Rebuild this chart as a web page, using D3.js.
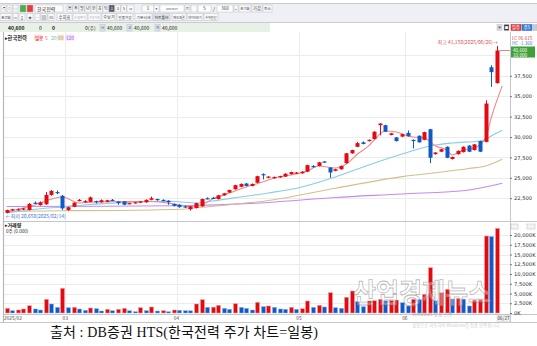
<!DOCTYPE html>
<html>
<head>
<meta charset="utf-8">
<script src="https://cdn.jsdelivr.net/npm/d3@7"></script>
<style>
  body { margin: 0; background: #ffffff; }
  svg { display: block; font-family: "Noto Sans CJK KR", "DejaVu Sans", sans-serif; }
</style>
</head>
<body>
<svg id="chart" width="537" height="346"></svg>
<script>
// daily candles, 2025/02/14 .. 2025/06/26
var candleOpen  = [20700,21000,21050,21100,21050,21950,21650,21750,22900,23250,22800,
                   21050,21450,22150,22000,22050,22150,22000,22050,22300,22100,22100,21800,21900,21950,22000,22300,22400,22300,22200,21800,
                   21700,21500,21150,21300,21500,22500,22550,22400,22850,23200,23600,23900,24300,24000,24400,25450,25000,24950,25050,25150,25450,25500,
                   25550,25750,26450,26450,27000,26250,25850,26050,26800,28000,28800,29350,29500,29750,31450,31450,30250,29950,30050,
                   30500,29650,30150,29650,30950,27900,28200,28800,27300,27900,28150,28950,28400,29500,29400,38550,36600];
var candleHigh  = [21100,21200,21250,21300,21900,22100,22100,23250,23500,23450,22900,
                   21450,22000,22400,22250,22700,22200,22350,22300,22400,22150,22150,21950,22050,22150,22350,22700,22450,22350,22250,21850,
                   21750,21600,21550,21950,22450,22600,22650,22900,23150,23550,24150,24300,24350,24300,25250,25550,25200,25150,25250,25550,25750,25700,
                   25800,26600,26550,26950,27050,26300,26100,26500,28050,28450,29400,29450,29700,30700,31700,31500,30500,30000,30400,
                   30800,29700,30200,30650,31000,28150,28550,28850,27600,28350,28850,29000,29150,29550,34500,38800,41150];
var candleLow   = [20650,20950,21000,21050,21000,21800,21600,21700,22800,23000,21050,
                   20950,21400,22100,21950,22000,21850,21950,22000,22150,21700,21650,21750,21850,21900,21950,22250,22200,22100,21700,21500,
                   21350,21300,21000,21250,21450,22350,22400,22350,22800,23150,23550,23850,23950,23950,24350,24800,24950,24900,25000,25100,25400,25450,
                   25500,25700,26250,26400,26850,25000,25800,26000,26750,27950,28750,29100,29450,29700,30200,30600,30200,29450,30000,
                   30050,28600,29300,29600,26800,27850,28150,27400,27250,27850,28100,28150,28350,28150,29350,36150,36550];
var candleClose = [21050,21150,21150,21250,21800,21900,22000,22900,23400,23200,21250,
                   21400,21950,22300,22150,22600,22050,22250,22250,22250,21900,21700,21900,22000,22100,22300,22500,22250,22150,22000,21550,
                   21400,21400,21500,21900,22400,22400,22450,22850,23100,23500,24100,24250,24000,24250,25200,25350,25150,25100,25200,25500,25700,25650,
                   25750,26550,26300,26900,26900,25650,26050,26450,28000,28400,29250,29150,29650,30650,31650,30650,30450,29500,30350,
                   30100,29600,29350,30600,27450,28100,28500,27450,27550,28300,28800,28200,29100,28200,34100,37950,40600];

// trading volume in thousand shares
var volumeK = [1200,600,770,1030,1870,1030,770,3510,2310,1460,6330,
               1360,1460,1030,690,1280,1100,510,950,590,950,1200,590,330,1360,590,1540,510,590,330,770,
               690,590,560,2310,3410,1460,1500,1970,1200,950,2380,1460,1200,770,2740,1620,1800,1460,1030,950,1460,950,
               1100,3080,1460,1970,1540,5200,1360,1200,4030,5640,2900,1620,3080,3150,3510,3080,3150,3330,2640,
               1800,3510,3450,4790,11620,3150,5200,6080,3590,3700,3550,1800,3330,3400,19740,19600,21700];

// moving averages as drawn (candle index, price)
var ma5Idx  = [0,5,10,13,17,22,26,30,33,35,37,40,43,46,48,51,54,56,59,61,63,65,66,68,70,72,73,75,77,79,80,82,84,86,87,89];
var ma5Val  = [20810,21670,22650,21920,22070,22100,22100,21790,21430,21670,22400,23140,23880,24490,24980,25350,25840,26450,26200,26690,
               27920,28900,29630,30740,30610,30120,30000,29880,28900,28410,27800,28410,28650,29880,32330,36300];
var ma20Idx = [0,4,10,15,20,26,30,34,37,42,47,53,59,65,71,76,80,85,88,89];
var ma20Val = [20690,21060,21430,21730,21920,22100,22100,21920,22160,22650,23140,23880,25100,26570,27920,28900,29270,29510,30490,30800];
var ma60Idx = [0,10,20,31,35,47,59,71,83,86,89];
var ma60Val = [20870,20970,21000,21140,21390,22220,23720,25140,26130,26450,27270];
var ma120Idx = [0,17,31,47,59,71,83,89];
var ma120Val = [21490,21510,21580,21980,22590,23020,23510,24330];

var priceTicks  = [22500, 25000, 27500, 30000, 32500, 35000, 37500];
var priceGrid   = [22500, 25000, 27500, 30000, 32500, 35000, 37500, 40000];
var volumeTicks = [0, 2500, 5000, 7500, 10000, 12500, 15000, 17500, 20000];
var monthStart  = [10.5, 30.5, 52.5, 71.5];
var monthLabels = ['03', '04', '05', '06'];

var RED = '#e30b12', BLUE = '#1158c8';
var plotL = 4, plotR = 510;

var svg = d3.select('#chart');

var x  = d3.scaleLinear().domain([0, 88]).range([6.7, 496.7]);
var yP = d3.scaleLinear().domain([20000, 40000]).range([218.6, 55.4]);
var yV = d3.scaleLinear().domain([0, 20000]).range([313, 235]);

function txt(g, px, py, s, size, col, anchor, weight) {
    return g.append('text').attr('x', px).attr('y', py).text(s)
            .attr('font-size', size).attr('fill', col || '#333')
            .attr('text-anchor', anchor || 'start')
            .attr('font-weight', weight || 'normal');
}

function btn(g, bx, by, w, h, label, fill, col, stroke) {
    g.append('rect').attr('x', bx).attr('y', by).attr('width', w).attr('height', h)
     .attr('fill', fill || '#fafafa').attr('stroke', stroke || '#b9bcc4').attr('stroke-width', 0.5);
    if (label) {
        var fs = Math.min(4.4, (w - 1.5) / label.length);
        txt(g, bx + w / 2, by + h - 2, label, fs, col || '#333', 'middle');
    }
}

//
// toolbar
//
var tb = svg.append('g');
tb.append('rect').attr('x', 0).attr('y', 0).attr('width', 537).attr('height', 32).attr('fill', '#eef0f5');
tb.append('rect').attr('x', 0).attr('y', 0).attr('width', 537).attr('height', 3).attr('fill', '#ffffff');
tb.append('line').attr('x1', 0).attr('x2', 537).attr('y1', 3.5).attr('y2', 3.5).attr('stroke', '#c9ccd3');
tb.append('line').attr('x1', 0).attr('x2', 537).attr('y1', 22.5).attr('y2', 22.5).attr('stroke', '#c9ccd3');
tb.append('rect').attr('x', 0).attr('y', 23).attr('width', 537).attr('height', 9).attr('fill', '#ffffff');
tb.append('rect').attr('x', 0).attr('y', 23).attr('width', 270).attr('height', 9).attr('fill', '#e9f1e6');

btn(tb, 1, 5, 5, 7, '◁');
btn(tb, 7, 5, 5, 7, '◇');
btn(tb, 13, 5, 5, 7, '◎');
btn(tb, 20, 5, 6, 7, '', '#46b04a', '#2f8a33');
btn(tb, 27, 5, 6, 7, '', '#e53b3b', '#b02020');
btn(tb, 35, 5, 28, 7, '', '#ffffff');
txt(tb, 37, 10.8, '한국전력', 5, '#222');

var periodBtns = ['▣', '주', '월', '년', '분', '초', '틱', '1', '3', '5', '10'];
periodBtns.forEach(function (s, i) {
    var on = (i == 7);
    btn(tb, 67 + i * 6, 5, i == 10 ? 7 : 5.5, 7, s, on ? '#5a5d66' : '#fafafa', on ? '#fff' : '#333');
});
btn(tb, 142, 5, 12, 7, '1');
btn(tb, 154, 5, 5, 7, '▾');
btn(tb, 160, 5, 24, 7, '2025/06/27', '#ffffff');
btn(tb, 185, 5, 5, 7, '▦');
btn(tb, 191, 5, 6, 7, '');
btn(tb, 198, 5, 13, 7, '5', '#ffffff');
txt(tb, 213, 10.8, '/', 5, '#333');
btn(tb, 217, 5, 16, 7, '360', '#ffffff');
btn(tb, 234, 5, 4, 7, '▴');
btn(tb, 239, 5, 12, 7, '초기화');
btn(tb, 252, 5, 10, 7, '가감');
btn(tb, 263, 5, 9, 7, '최소');

var row2 = [[0, 12, '조건화'], [13, 5, '▭'], [19, 6, '↕'], [27, 6, '◈'], [35, 5, '─'], [41, 6, '▤'], [48, 6, '⊡'],
            [57, 15, '수치표'], [73, 14, '수정주가'], [88, 13, '수정거래'], [102, 14, '수보기'], [117, 16, '일중가감'],
            [135, 17, '기본시세'], [153, 17, '차트툴바'], [172, 14, '매도체결'], [187, 16, '데이터보기'], [204, 14, '수익인산']];
row2.forEach(function (b, i) {
    var grey = (i == 8 || i == 9);
    btn(tb, b[0], 13.5, b[1], 7, b[2], i == 13 ? '#dfe3ea' : '#fafafa', grey ? '#aaa' : '#333');
});

txt(tb, 8, 30, '40,600', 5, '#111', 'start', 'bold');
txt(tb, 39, 30, '0', 5, '#111');
txt(tb, 52, 30, '0', 5, '#111', 'start', 'bold');
txt(tb, 85, 30, '0(주)', 5, '#333');
[[100, '시'], [127, '고'], [155, '저']].forEach(function (d) {
    btn(tb, d[0], 24.5, 5, 6.5, d[1], '#d9e4f3');
    txt(tb, d[0] + 7, 30, '40,600', 5, '#222');
});
btn(tb, 497, 24.5, 5, 6, '▣', '#dddddd');
btn(tb, 504, 24.5, 5, 6, '■', '#333333', '#fff');
btn(tb, 511, 24.5, 10, 6, '일주', '#e64444', '#fff', '#c02020');
btn(tb, 522, 24.5, 10, 6, '주5', '#3b7fdc', '#fff', '#2060c0');
btn(tb, 533, 24.5, 4, 6, '', '#cccccc');

//
// chart frame + grids
//
var frame = svg.append('g');
frame.append('rect').attr('x', 0).attr('y', 32).attr('width', 537).attr('height', 290).attr('fill', '#ffffff');
frame.append('line').attr('x1', 3.5).attr('x2', 3.5).attr('y1', 32).attr('y2', 322).attr('stroke', '#b5b8bf').attr('stroke-width', 1.2);
frame.append('line').attr('x1', plotR + 0.5).attr('x2', plotR + 0.5).attr('y1', 32).attr('y2', 322).attr('stroke', '#c4c6cc');
frame.append('line').attr('x1', plotL).attr('x2', 537).attr('y1', 221.5).attr('y2', 221.5).attr('stroke', '#c4c6cc').attr('stroke-width', 1.2);
frame.append('line').attr('x1', plotL).attr('x2', 537).attr('y1', 314.5).attr('y2', 314.5).attr('stroke', '#c4c6cc');
frame.append('line').attr('x1', 0).attr('x2', 537).attr('y1', 322.5).attr('y2', 322.5).attr('stroke', '#c4c6cc');

var grid = svg.append('g').attr('stroke', '#ececec').attr('stroke-width', 1);
priceGrid.forEach(function (p) {
    grid.append('line').attr('x1', plotL).attr('x2', plotR)
        .attr('y1', Math.round(yP(p)) + 0.5).attr('y2', Math.round(yP(p)) + 0.5);
});
volumeTicks.forEach(function (v) {
    if (v == 0) return;
    grid.append('line').attr('x1', plotL).attr('x2', plotR)
        .attr('y1', Math.round(yV(v)) + 0.5).attr('y2', Math.round(yV(v)) + 0.5);
});
monthStart.forEach(function (m) {
    var gx = Math.round(x(m)) + 0.5;
    grid.append('line').attr('x1', gx).attr('x2', gx).attr('y1', 32).attr('y2', 221);
    grid.append('line').attr('x1', gx).attr('x2', gx).attr('y1', 222).attr('y2', 314);
});

//
// moving averages
//
var plot = svg.append('g');
function maLine(idx, val, col) {
    var pts = idx.map(function (d, i) { return [x(d), yP(val[i])]; });
    plot.append('path').attr('d', d3.line().curve(d3.curveMonotoneX)(pts))
        .attr('fill', 'none').attr('stroke', col).attr('stroke-width', 1.1);
}
maLine(ma120Idx, ma120Val, '#c58af0');
maLine(ma60Idx, ma60Val, '#d6bd8e');
maLine(ma20Idx, ma20Val, '#86cde6');
maLine(ma5Idx, ma5Val, '#f0888a');

//
// candles
//
var idx = d3.range(candleOpen.length);
plot.selectAll('line.wick').data(idx).enter().append('line')
    .attr('x1', function (i) { return Math.round(x(i)) + 0.5; })
    .attr('x2', function (i) { return Math.round(x(i)) + 0.5; })
    .attr('y1', function (i) { return yP(candleHigh[i]); })
    .attr('y2', function (i) { return yP(candleLow[i]); })
    .attr('stroke', function (i) { return candleClose[i] >= candleOpen[i] ? RED : BLUE; })
    .attr('stroke-width', 1);
plot.selectAll('rect.body').data(idx).enter().append('rect')
    .attr('x', function (i) { return Math.round(x(i)) - 1.5; })
    .attr('width', 4)
    .attr('y', function (i) { return yP(Math.max(candleOpen[i], candleClose[i])); })
    .attr('height', function (i) { return Math.max(1.2, Math.abs(yP(candleOpen[i]) - yP(candleClose[i]))); })
    .attr('fill', function (i) { return candleClose[i] >= candleOpen[i] ? RED : BLUE; });

// current price line and high / low markers
var last = candleClose.length - 1;
plot.append('line').attr('x1', x(last) + 3).attr('x2', plotR)
    .attr('y1', yP(candleClose[last])).attr('y2', yP(candleClose[last]))
    .attr('stroke', '#f06060').attr('stroke-width', 0.8);
txt(plot, x(last) + 1, yP(41150) - 2.5, '최고 41,150(2025/06/26)→', 5, '#e04848', 'end');
txt(plot, x(0) - 1, yP(20650) + 4.5, '←최저 20,650(2025/02/14)', 5, '#3c6fd6', 'start');

//
// volume
//
var vcol = function (i) { return (i == 0 || volumeK[i] >= volumeK[i - 1]) ? RED : BLUE; };
plot.selectAll('rect.vol').data(idx).enter().append('rect')
    .attr('x', function (i) { return Math.round(x(i)) - 1.5; })
    .attr('width', 4)
    .attr('y', function (i) { return yV(volumeK[i]); })
    .attr('height', function (i) { return yV(0) - yV(volumeK[i]); })
    .attr('fill', vcol)
    .attr('stroke', function (i) { return vcol(i) == RED ? '#f3a0a3' : '#8fb3e6'; })
    .attr('stroke-width', 0.5);

//
// axes
//
var axP = svg.append('g').attr('transform', 'translate(' + plotR + ',0)')
    .call(d3.axisRight(yP).tickValues(priceTicks).tickSize(2).tickPadding(2).tickFormat(d3.format(',')));
var axV = svg.append('g').attr('transform', 'translate(' + plotR + ',0)')
    .call(d3.axisRight(yV).tickValues(volumeTicks).tickSize(2).tickPadding(2)
          .tickFormat(function (d) { return d3.format(',')(d) + 'K'; }));
[axP, axV].forEach(function (a) {
    a.select('.domain').remove();
    a.selectAll('line').attr('stroke', '#777');
    a.selectAll('text').attr('font-size', 5.2).attr('fill', '#333')
     .style('font-family', '"DejaVu Sans", sans-serif');
});

var axX = svg.append('g');
txt(axX, 4, 320, '2025/02', 4.8, '#444');
monthStart.forEach(function (m, i) {
    txt(axX, x(m), 320, monthLabels[i], 4.8, '#444', 'middle');
});
btn(axX, 497, 315.5, 13, 6, '', '#f2f2f2', '#333', '#d0d0d0');
txt(axX, 503.5, 320.3, '06/27', 4.6, '#333', 'middle');

//
// legends and top right price box
//
var lg = svg.append('g');
txt(lg, 5, 39.5, '▸한국전력', 5.2, '#111', 'start', 'bold');
lg.append('rect').attr('x', 34).attr('y', 34.5).attr('width', 8).attr('height', 6).attr('fill', '#fde0e0');
txt(lg, 35, 39.5, '일봉', 4.6, RED);
txt(lg, 45, 39.5, '5', 5, '#f07070');
txt(lg, 51, 39.5, '20', 5, '#5bb8dc');
lg.append('rect').attr('x', 57).attr('y', 34.5).attr('width', 7).attr('height', 6).attr('fill', '#f3ead6');
txt(lg, 58, 39.5, '60', 5, '#c0a060');
lg.append('rect').attr('x', 65).attr('y', 34.5).attr('width', 9).attr('height', 6).attr('fill', '#efe0fb');
txt(lg, 66, 39.5, '120', 5, '#b070e8');

txt(lg, 512, 40, 'LC  96.615', 4.6, '#e04040');
txt(lg, 512, 45, 'HC  -1.360', 4.6, '#3c7ad8');
lg.append('rect').attr('x', 511).attr('y', 46.5).attr('width', 24).attr('height', 11).attr('fill', '#3fa037');
txt(lg, 513, 51.5, '40,600', 4.6, '#ffffff');
txt(lg, 513, 56.5, '10.000', 4.6, '#ffffff');

txt(lg, 5, 226.5, '▸거래량', 5, '#111', 'start', 'bold');
txt(lg, 6, 232.5, '0주  (0.000)', 4.6, '#333');
btn(lg, 511, 224, 7, 5, '', '#f4f4f4', '#333', '#bbb');
btn(lg, 527, 224, 8, 5, '', '#f4f4f4', '#333', '#bbb');

//
// watermark + caption
//
var wm = svg.append('g');
wm.append('text').attr('x', 353).attr('y', 303).text('산업경제뉴스')
  .attr('font-size', 27).attr('font-weight', 'bold')
  .attr('textLength', 138).attr('lengthAdjust', 'spacingAndGlyphs')
  .attr('fill', 'rgba(255,255,255,0.35)').attr('stroke', 'rgba(120,120,120,0.55)').attr('stroke-width', 0.8);
txt(wm, 412, 316, 'Windows 정품 인증', 4.8, 'rgba(150,150,150,0.7)');
txt(wm, 412, 326.5, '설정으로 이동하여 Windows를 정품 인증합니다.', 4.4, 'rgba(170,170,170,0.6)');

svg.append('text').attr('x', 50).attr('y', 337)
   .text('출처 : DB증권 HTS(한국전력 주가 차트=일봉)')
   .attr('font-size', 14).attr('fill', '#111')
   .style('font-family', '"Liberation Serif", "Noto Sans CJK KR", serif')
   .attr('textLength', 268).attr('lengthAdjust', 'spacing');
</script>
</body>
</html>
